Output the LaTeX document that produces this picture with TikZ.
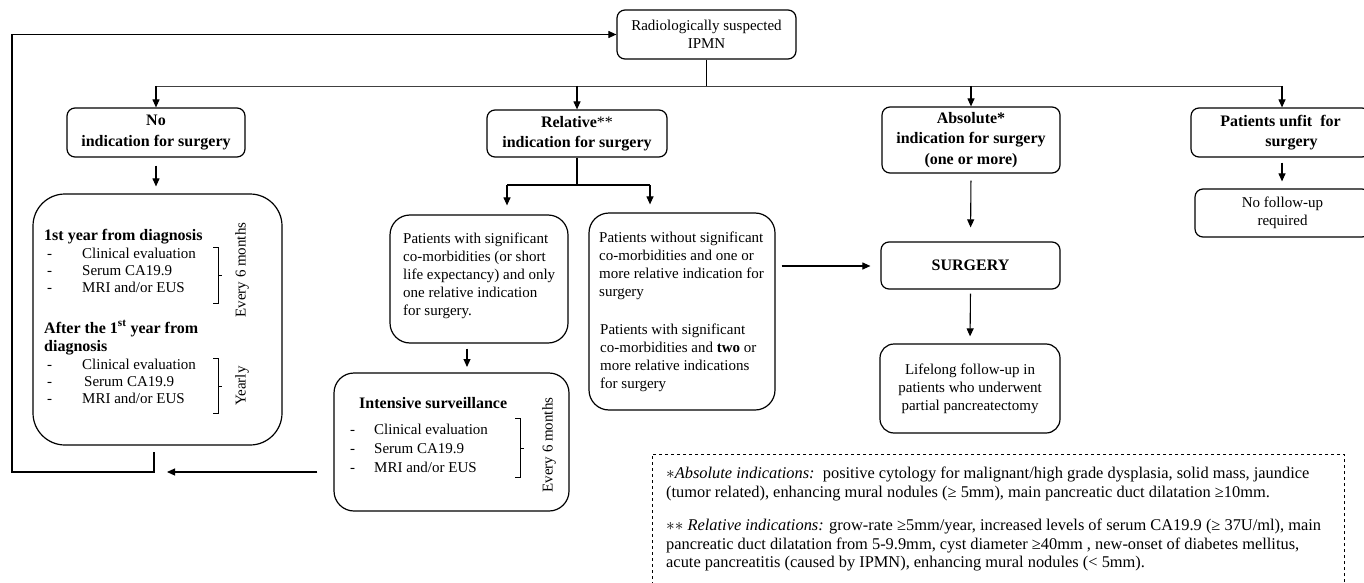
\documentclass[tikz,border=0pt]{standalone}
\usepackage{fontspec}
\setmainfont{Liberation Serif}
\usetikzlibrary{arrows.meta}
\newcommand\fsn{\fontsize{15}{18}\selectfont}
\newcommand\fsb{\fontsize{16}{20.5}\selectfont\bfseries}
\newcommand\fsf{\fontsize{16.4}{18.6}\selectfont}
\newcommand\dsh[1]{\makebox[#1][l]{-}}
\begin{document}
\begin{tikzpicture}[x=1pt,y=-1pt,
  box/.style={draw, line width=1.2pt, rounded corners=8pt, align=center, inner sep=0pt},
  hbox/.style={box, font=\fsb},
  nbox/.style={box, font=\fsn},
  txt/.style={inner sep=0pt, font=\fsn, align=left},
  btxt/.style={inner sep=0pt, font=\fsb, align=left},
  conn/.style={line width=1.1pt, -{Triangle[length=8pt,width=7pt]}},
  plain/.style={line width=1.1pt},
  brk/.style={line width=0.6pt},
  vlab/.style={inner sep=0pt, font=\fsn, rotate=90}
]
\useasboundingbox (0,0) rectangle (1364,583);

% main boxes
\node[nbox, minimum width=179pt, minimum height=49pt] (top) at (706.5,34.5) {Radiologically suspected\\IPMN};
\node[hbox, minimum width=178pt, minimum height=49pt] (no) at (156,132.5) {No\\indication for surgery};
\node[hbox, minimum width=180pt, minimum height=47pt] (rel) at (577,133.5) {Relative{\mdseries**}\\indication for surgery};
\node[hbox, minimum width=178pt, minimum height=66pt] (abs) at (971,140) {Absolute*\\indication for surgery\\(one or more)};
\node[hbox, minimum width=179pt, minimum height=49pt] (unfit) at (1280.5,132.5) {Patients unfit\ \ for\\\hspace*{22pt}surgery};
\node[nbox, minimum width=175pt, minimum height=48pt] (nofu) at (1282.5,213) {No follow-up\\required};

\node[box, rounded corners=32pt, minimum width=249pt, minimum height=251pt] (big) at (157.5,319.5) {};
\node[box, rounded corners=20pt, minimum width=178pt, minimum height=128pt] (A) at (479,279) {};
\node[box, rounded corners=20pt, minimum width=186pt, minimum height=197pt] (B) at (682,311.5) {};
\node[box, rounded corners=20pt, minimum width=235pt, minimum height=138pt] (IS) at (451.5,442) {};
\node[hbox, minimum width=179pt, minimum height=47pt] (surg) at (970.5,265.5) {SURGERY};
\node[nbox, rounded corners=14pt, minimum width=180pt, minimum height=89pt] (life) at (970,388.5) {Lifelong follow-up in\\patients who underwent\\partial pancreatectomy};

% texts in big box
\node[btxt, anchor=base west] (y1) at (44,240) {1st year from diagnosis};
\node[txt, anchor=base west] (i1) at (47,258) {\dsh{35pt}Clinical evaluation};
\node[txt, anchor=base west] (i2) at (47,275) {\dsh{35pt}Serum CA19.9};
\node[txt, anchor=base west] (i3) at (47,292) {\dsh{35pt}MRI and/or EUS};
\node[btxt, anchor=base west] (y2) at (44,333) {After the 1\textsuperscript{st} year from};
\node[btxt, anchor=base west] (y3) at (44,351) {diagnosis};
\node[txt, anchor=base west] (i4) at (47,369) {\dsh{35pt}Clinical evaluation};
\node[txt, anchor=base west] (i5) at (47,386) {\dsh{37pt}Serum CA19.9};
\node[txt, anchor=base west] (i6) at (47,403) {\dsh{35pt}MRI and/or EUS};
\draw[brk] (213,247) -- (218,247) -- (218,303) -- (213,303) (218,275) -- (222,275);
\draw[brk] (213,358) -- (218,358) -- (218,413) -- (213,413) (218,386) -- (222,386);
\node[vlab] (e1) at (242,270) {Every 6 months};
\node[vlab] (e2) at (242,386) {Yearly};

% A text
\node[txt, anchor=north west] (At) at (403,232.5) {Patients with significant\\co-morbidities (or short\\life expectancy) and only\\one relative indication\\for surgery.};
% B text
\node[txt, anchor=north west] (Bt1) at (599,231.5) {Patients without significant\\co-morbidities and one or\\more relative indication for\\surgery};
\node[txt, anchor=north west] (Bt2) at (600,323.5) {Patients with significant\\co-morbidities and \textbf{two} or\\more relative indications\\for surgery};

% IS text
\node[btxt, anchor=base west] (ist) at (359,408) {Intensive surveillance};
\node[txt, anchor=base west] (i7) at (350,434) {\dsh{24pt}Clinical evaluation};
\node[txt, anchor=base west] (i8) at (350,453) {\dsh{24pt}Serum CA19.9};
\node[txt, anchor=base west] (i9) at (350,472) {\dsh{24pt}MRI and/or EUS};
\draw[brk] (515,418) -- (520,418) -- (520,477) -- (515,477) (520,448) -- (524,448);
\node[vlab] (e3) at (549,445) {Every 6 months};

% footnote box
\node[draw, dashed, line width=0.8pt, minimum width=692pt, minimum height=156pt, inner sep=0pt] (fn) at (998,532) {};
\node[inner sep=0pt, font=\fsf, align=left, anchor=north west] (f1) at (666,467) {$\ast$\textit{Absolute indications:}\ \ positive cytology for malignant/high grade dysplasia, solid mass, jaundice\\(tumor related), enhancing mural nodules (≥ 5mm), main pancreatic duct dilatation ≥10mm.};
\node[inner sep=0pt, font=\fsf, align=left, anchor=north west] (f2) at (666,519) {$\ast\ast$ \textit{Relative indications:} grow-rate ≥5mm/year, increased levels of serum CA19.9 (≥ 37U/ml), main\\pancreatic duct dilatation from 5-9.9mm, cyst diameter ≥40mm , new-onset of diabetes mellitus,\\acute pancreatitis (caused by IPMN), enhancing mural nodules (< 5mm).};

% connectors
\coordinate (hl) at (156,86);
\coordinate (hr) at (1282,86);
\draw[plain] (top.south) -- (top.south |- hl);
\draw[line width=0.9pt, black!75] (hl) -- (hr);
\draw[conn] (hl) -- (no.north);
\draw[conn] (rel.north |- hl) -- (rel.north);
\draw[conn] (abs.north |- hl) -- (abs.north);
\draw[conn] (hr) -- (hr |- unfit.north);
\draw[conn, shorten <=8pt, shorten >=7pt] (no.south) -- (no.south |- big.north);

\coordinate (rs) at (577,185);
\coordinate (rl) at (507,185);
\coordinate (rr) at (650,185);
\draw[plain] (rel.south) -- (rs);
\draw[plain] (rl) -- (rr);
\draw[conn, shorten >=9pt] (rl) -- (rl |- A.north);
\draw[conn, shorten >=8pt] (rr) -- (rr |- B.north);
\draw[conn, shorten <=5pt, shorten >=6pt] (A.south -| 467,0) -- (467,373);
\draw[conn, shorten <=6pt, shorten >=10pt] (B.east |- 0,266) -- (surg.west |- 0,266);
\draw[conn, shorten <=7pt, shorten >=14pt] (abs.south) -- (surg.north);
\draw[conn, shorten <=4pt, shorten >=7pt] (surg.south) -- (life.north);
\draw[conn, shorten <=5pt, shorten >=7pt] (unfit.south -| hr) -- (nofu.north -| hr);

% feedback loop
\coordinate (fs) at (154,452);
\coordinate (fb) at (154,472);
\coordinate (fl) at (12,472);
\coordinate (ft) at (12,34.5);
\draw[conn] (fs) -- (fb) -- (fl) -- (ft) -- (top.west);
\draw[conn, shorten <=16pt] (IS.west |- 0,472) -- (167,472);
\end{tikzpicture}
\end{document}
